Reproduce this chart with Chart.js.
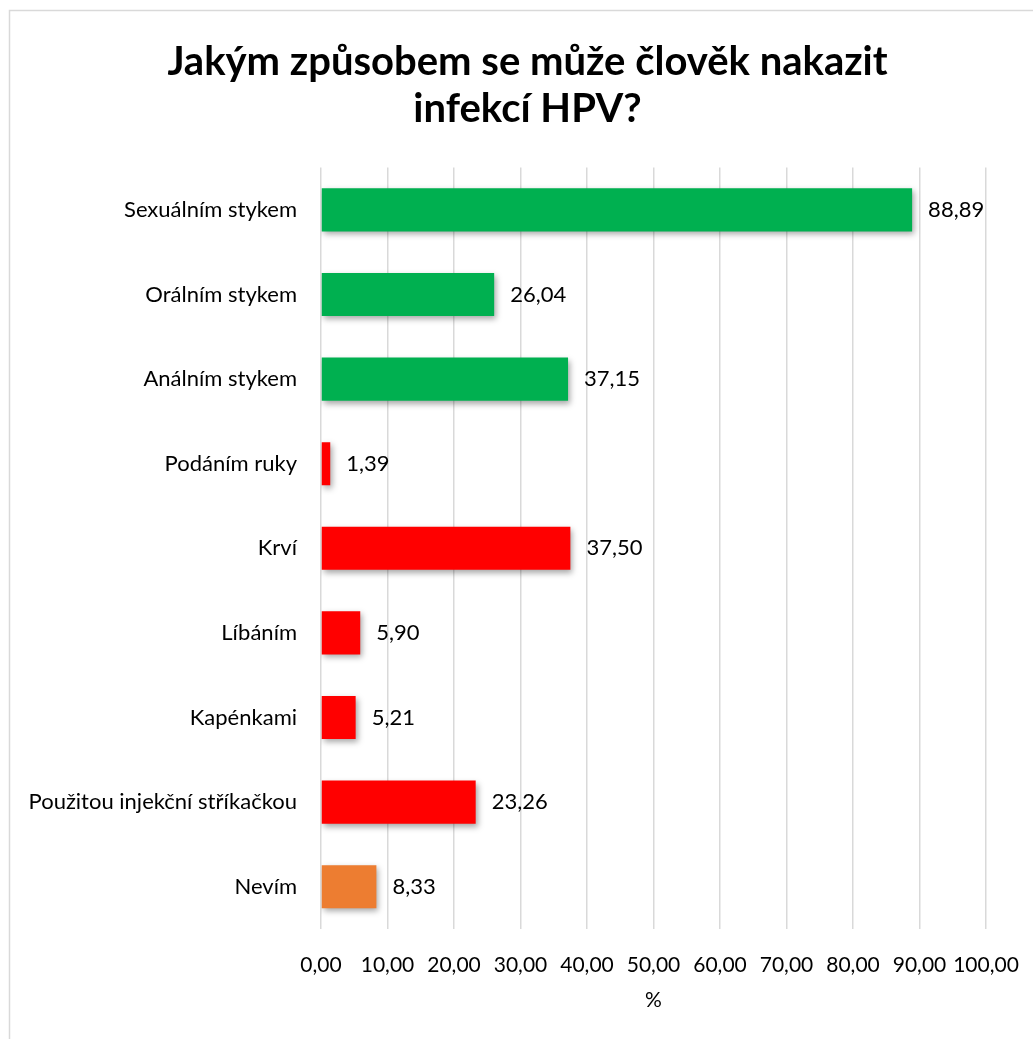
<!DOCTYPE html>
<html>
<head>
<meta charset="utf-8">
<script src="https://cdn.jsdelivr.net/npm/chart.js@4"></script>
<style>
  html, body { margin: 0; padding: 0; background: #fff; }
  #wrap { position: relative; width: 1033px; height: 1039px; }
</style>
</head>
<body>
<div id="wrap"><canvas id="hpvChart"></canvas></div>
<script>
// Chart data
const titleLines = ['Jakým způsobem se může člověk nakazit', 'infekcí HPV?'];
const categories = [
    'Sexuálním stykem',
    'Orálním stykem',
    'Análním stykem',
    'Podáním ruky',
    'Krví',
    'Líbáním',
    'Kapénkami',
    'Použitou injekční stříkačkou',
    'Nevím'
];
const values = [88.89, 26.04, 37.15, 1.39, 37.50, 5.90, 5.21, 23.26, 8.33];
const barColors = ['#00B050', '#00B050', '#00B050', '#FF0000', '#FF0000', '#FF0000', '#FF0000', '#FF0000', '#ED7D31'];
const axisTitle = '%';

const FONT = 'Lato, "Open Sans", sans-serif';

function formatNum(v) {
    return v.toFixed(2).replace('.', ',');
}

// Light frame round the chart (left and top edges visible)
const framePlugin = {
    id: 'frame',
    beforeDraw(chart) {
        const ctx = chart.ctx;
        ctx.save();
        ctx.fillStyle = '#fff';
        ctx.fillRect(0, 0, chart.width, chart.height);
        ctx.strokeStyle = '#d9d9d9';
        ctx.lineWidth = 1.5;
        ctx.beginPath();
        ctx.moveTo(9.5, chart.height + 2);
        ctx.lineTo(9.5, 10.5);
        ctx.lineTo(chart.width + 2, 10.5);
        ctx.stroke();
        ctx.restore();
    }
};

// Soft shadow under the bars
const shadowPlugin = {
    id: 'barShadow',
    beforeDatasetsDraw(chart) {
        const ctx = chart.ctx;
        ctx.save();
        ctx.shadowColor = 'rgba(0, 0, 0, 0.35)';
        ctx.shadowBlur = 6;
        ctx.shadowOffsetX = 2;
        ctx.shadowOffsetY = 3;
    },
    afterDatasetsDraw(chart) {
        chart.ctx.restore();
    }
};

// Value labels at the end of each bar
const valueLabels = {
    id: 'valueLabels',
    afterDatasetsDraw(chart) {
        const ctx = chart.ctx;
        const meta = chart.getDatasetMeta(0);
        ctx.save();
        ctx.font = '22px ' + FONT;
        ctx.fillStyle = '#000';
        ctx.textAlign = 'left';
        ctx.textBaseline = 'middle';
        meta.data.forEach((bar, i) => {
            ctx.fillText(formatNum(values[i]), bar.x + 16, bar.y);
        });
        ctx.restore();
    }
};

new Chart(document.getElementById('hpvChart'), {
    type: 'bar',
    data: {
        labels: categories,
        datasets: [{
            data: values,
            backgroundColor: barColors,
            borderWidth: 0,
            categoryPercentage: 1,
            barPercentage: 0.51
        }]
    },
    options: {
        indexAxis: 'y',
        responsive: true,
        maintainAspectRatio: false,
        animation: false,
        layout: {
            padding: { left: 22, right: 0, top: 10, bottom: 0 }
        },
        plugins: {
            legend: { display: false },
            tooltip: { enabled: false },
            title: {
                display: true,
                text: titleLines,
                color: '#000',
                font: { family: FONT, size: 40, weight: 'bold', lineHeight: 1.17 },
                padding: { top: 29, bottom: 35 }
            }
        },
        scales: {
            x: {
                min: 0,
                max: 100,
                ticks: {
                    stepSize: 10,
                    color: '#000',
                    padding: 24,
                    maxRotation: 0,
                    autoSkip: false,
                    font: { family: FONT, size: 21 },
                    callback: (v) => formatNum(v)
                },
                grid: { color: '#d9d9d9', lineWidth: 1.5, drawTicks: false },
                border: { display: false },
                title: {
                    display: true,
                    text: axisTitle,
                    color: '#000',
                    font: { family: FONT, size: 21 },
                    padding: { top: 0, bottom: 26 }
                },
                afterFit(scale) {
                    scale.height = 110;
                    scale.paddingLeft = 0;
                    scale.paddingRight = 0;
                }
            },
            y: {
                ticks: {
                    color: '#000',
                    padding: 24,
                    font: { family: FONT, size: 22 }
                },
                grid: { display: false, drawTicks: false },
                border: { display: false },
                afterFit(scale) { scale.width = 299; }
            },
            spacer: {
                type: 'linear',
                position: 'right',
                display: true,
                ticks: { display: false },
                grid: { display: false },
                border: { display: false },
                afterFit(scale) { scale.width = 47; }
            }
        }
    },
    plugins: [framePlugin, shadowPlugin, valueLabels]
});
</script>
</body>
</html>
